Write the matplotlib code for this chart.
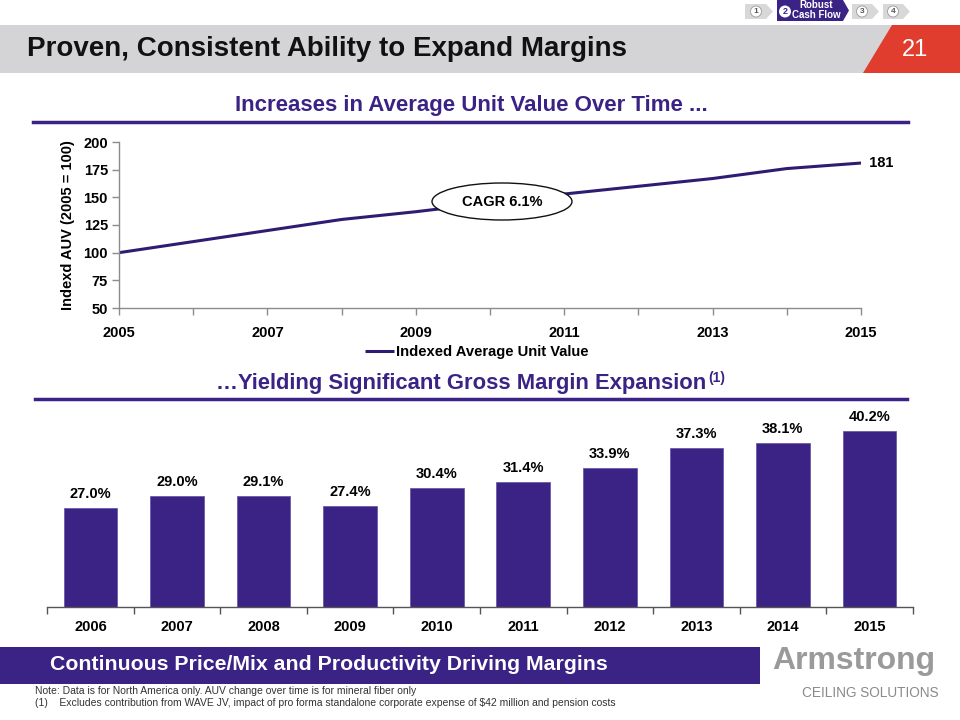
import matplotlib
matplotlib.use("Agg")
import matplotlib.pyplot as plt
from matplotlib.patches import Polygon, Ellipse
from matplotlib.lines import Line2D

plt.rcParams['font.family'] = ['Liberation Sans', 'DejaVu Sans']

# ---------------- data ----------------
auv_years = [2005, 2006, 2007, 2008, 2009, 2010, 2011, 2012, 2013, 2014, 2015]
auv_values = [100, 110, 120, 130, 137, 145, 153, 160, 167, 176, 181]
auv_ticks = [2005, 2007, 2009, 2011, 2013, 2015]
auv_yticks = [50, 75, 100, 125, 150, 175, 200]
cagr_label = "CAGR 6.1%"
end_label = "181"

gm_years = ['2006', '2007', '2008', '2009', '2010', '2011', '2012', '2013', '2014', '2015']
gm_values = [27.0, 29.0, 29.1, 27.4, 30.4, 31.4, 33.9, 37.3, 38.1, 40.2]

W, H = 960, 720
PURPLE = '#3b2386'
LINE_PURPLE = '#2f1c72'
RED = '#e13d2f'
GRAY_BAND = '#d4d4d6'


def fx(x):
    return x / W


def fy(y):
    return 1 - y / H


fig = plt.figure(figsize=(9.6, 7.2), dpi=100)
fig.patch.set_facecolor('white')


def add_poly(pts, color, z=1):
    fig.patches.append(Polygon([(fx(x), fy(y)) for x, y in pts], closed=True,
                               transform=fig.transFigure, facecolor=color,
                               edgecolor='none', zorder=z))


# ---------------- header ----------------
add_poly([(0, 25), (960, 25), (960, 73), (0, 73)], GRAY_BAND)
add_poly([(892, 25), (960, 25), (960, 73), (863, 73)], RED, z=2)
fig.text(fx(27), fy(49), "Proven, Consistent Ability to Expand Margins",
         fontweight='bold', fontsize=20, color='#111111', va='center', ha='left')
fig.text(fx(915), fy(50), "21", fontsize=17, color='white', va='center', ha='center')


# navigation chevrons
def chev(x0, x1, xp, y0, y1, color):
    ym = (y0 + y1) / 2
    add_poly([(x0, y0), (x1, y0), (xp, ym), (x1, y1), (x0, y1)], color, z=3)


for (x0, x1, xp, cx, lab) in [(745, 766, 773, 756, '1'), (852, 872, 879, 862, '3'), (883, 903, 910, 893, '4')]:
    chev(x0, x1, xp, 4, 19, '#d8d8d8')
    fig.patches.append(Ellipse((fx(cx), fy(11.5)), 11 / W, 11 / H, transform=fig.transFigure,
                               facecolor='white', edgecolor='#9a9a9a', lw=0.6, zorder=4))
    fig.text(fx(cx), fy(11.8), lab, fontsize=6, fontweight='bold', color='#555555',
             ha='center', va='center', zorder=5)
chev(777, 843, 849, 0, 21, PURPLE)
fig.patches.append(Ellipse((fx(785), fy(11.5)), 12 / W, 12 / H, transform=fig.transFigure,
                           facecolor='white', edgecolor='none', zorder=4))
fig.text(fx(785), fy(11.8), '2', fontsize=6.5, fontweight='bold', color=PURPLE,
         ha='center', va='center', zorder=5)
fig.text(fx(816), fy(5.5), 'Robust', fontsize=7, fontweight='bold', color='white',
         ha='center', va='center', zorder=5)
fig.text(fx(816), fy(15.5), 'Cash Flow', fontsize=7, fontweight='bold', color='white',
         ha='center', va='center', zorder=5)

# ---------------- section titles ----------------
fig.text(fx(471), fy(106), "Increases in Average Unit Value Over Time ...",
         fontsize=16, fontweight='bold', color=PURPLE, ha='center', va='center')
fig.add_artist(Line2D([fx(33), fx(908)], [fy(121.5), fy(121.5)], color=PURPLE, lw=2.5,
                      transform=fig.transFigure))
sub2 = fig.text(fx(216), fy(384), "…Yielding Significant Gross Margin Expansion",
                fontsize=15.8, fontweight='bold', color=PURPLE, ha='left', va='center')
fig.canvas.draw()
bb = sub2.get_window_extent(renderer=fig.canvas.get_renderer())
fig.text((bb.x1 + 2) / W, fy(378), "(1)", fontsize=10, fontweight='bold', color=PURPLE,
         ha='left', va='center')
fig.add_artist(Line2D([fx(35), fx(907)], [fy(399), fy(399)], color=PURPLE, lw=2.5,
                      transform=fig.transFigure))

# ---------------- line chart ----------------
ax1 = fig.add_axes([fx(119), fy(308), (861 - 119) / W, (308 - 142) / H])
line, = ax1.plot(auv_years, auv_values, color=LINE_PURPLE, lw=2.2,
                 label='Indexed Average Unit Value', solid_capstyle='butt')
ax1.set_xlim(auv_years[0], auv_years[-1])
ax1.set_ylim(auv_yticks[0], auv_yticks[-1])
ax1.set_yticks(auv_yticks)
ax1.set_xticks(auv_years, minor=True)
ax1.set_xticks(auv_ticks)
ax1.set_xticklabels([str(t) for t in auv_ticks])
for s in ['top', 'right']:
    ax1.spines[s].set_visible(False)
for s in ['left', 'bottom']:
    ax1.spines[s].set_color('#8c8c8c')
    ax1.spines[s].set_linewidth(1.0)
ax1.tick_params(axis='both', which='both', color='#8c8c8c', length=5, width=1,
                labelsize=10.5, direction='out')
ax1.tick_params(axis='x', which='major', pad=8)
ax1.tick_params(axis='y', pad=3)
for lab in ax1.get_xticklabels() + ax1.get_yticklabels():
    lab.set_fontweight('bold')
ax1.set_ylabel("Indexd AUV (2005 = 100)", fontsize=10.5, fontweight='bold', labelpad=6)
ax1.patch.set_alpha(0)
ax1.text(auv_years[-1], auv_values[-1], "  " + end_label, fontsize=10.5, fontweight='bold',
         ha='left', va='center', transform=ax1.transData, clip_on=False)

fig.patches.append(Ellipse((fx(502), fy(201.5)), 140 / W, 37 / H, transform=fig.transFigure,
                           facecolor='white', edgecolor='#111111', lw=1.0, zorder=10))
fig.text(fx(502), fy(202), cagr_label, fontsize=10.5, fontweight='bold', ha='center',
         va='center', zorder=11)

fig.legend(handles=[line], loc='center left', bbox_to_anchor=(fx(365), fy(352)),
           frameon=False, prop={'weight': 'bold', 'size': 10.6}, handlelength=2.0,
           handletextpad=0.1, borderaxespad=0, borderpad=0)

# ---------------- bar chart ----------------
ax2 = fig.add_axes([fx(47.3), fy(607.3), (912.7 - 47.3) / W, (607.3 - 403) / H])
xpos = list(range(len(gm_years)))
ax2.bar(xpos, gm_values, width=0.62, color=PURPLE, edgecolor='#6c5aa8', linewidth=0.6)
ax2.set_xlim(-0.5, len(gm_years) - 0.5)
ax2.set_ylim(10, 45)
ax2.set_yticks([])
ax2.set_xticks(xpos)
ax2.set_xticklabels(gm_years)
ax2.set_xticks([i - 0.5 for i in range(len(gm_years) + 1)], minor=True)
ax2.tick_params(axis='x', which='major', length=0, labelsize=10.5, pad=9)
ax2.tick_params(axis='x', which='minor', length=5, color='#555555', width=1)
for lab in ax2.get_xticklabels():
    lab.set_fontweight('bold')
for s in ['top', 'right', 'left']:
    ax2.spines[s].set_visible(False)
ax2.spines['bottom'].set_color('#555555')
ax2.spines['bottom'].set_linewidth(1.0)
ax2.patch.set_alpha(0)
for xi, v in zip(xpos, gm_values):
    ax2.annotate(f"{v:.1f}%", (xi, v), xytext=(0, 5), textcoords='offset points',
                 ha='center', va='bottom', fontsize=10.5, fontweight='bold')

# ---------------- footer ----------------
add_poly([(0, 647), (760, 647), (760, 683.5), (0, 683.5)], PURPLE)
fig.text(fx(50), fy(665), "Continuous Price/Mix and Productivity Driving Margins",
         fontsize=15.3, fontweight='bold', color='white', ha='left', va='center')
fig.text(fx(35), fy(691), "Note: Data is for North America only. AUV change over time is for mineral fiber only",
         fontsize=7.5, color='#333333', ha='left', va='center')
fig.text(fx(35), fy(703), "(1)    Excludes contribution from WAVE JV, impact of pro forma standalone corporate expense of $42 million and pension costs",
         fontsize=7.5, color='#333333', ha='left', va='center')

# logo text
fig.text(fx(854), fy(661), "Armstrong", fontsize=23, fontweight='bold', color='#9a9a9a',
         ha='center', va='center')
fig.text(fx(870), fy(693), "CEILING SOLUTIONS", fontsize=9.8, color='#8a8a8a',
         ha='center', va='center')

fig.savefig('out.png', dpi=100)
